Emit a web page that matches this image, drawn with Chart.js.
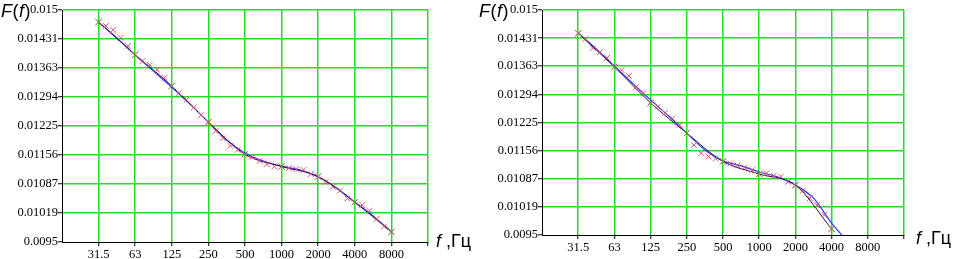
<!DOCTYPE html>
<html><head><meta charset="utf-8">
<script src="https://cdn.jsdelivr.net/npm/chart.js@4/dist/chart.umd.min.js"></script>
<style>
html,body{margin:0;padding:0;background:#fff;width:958px;height:259px;overflow:hidden;position:relative}
canvas{position:absolute;top:0}
.lbl{position:absolute;font-family:"Liberation Sans",Arial,sans-serif;color:#000;white-space:nowrap;line-height:1}
</style></head><body>
<canvas id="c1" width="479" height="259" style="left:0px"></canvas>
<canvas id="c2" width="479" height="259" style="left:479px"></canvas>
<div class="lbl" style="left:1px;top:2px;font-size:18px;letter-spacing:0.5px"><i>F</i>(<i>f</i>)</div>
<div class="lbl" style="left:479px;top:2px;font-size:18px;letter-spacing:0.5px"><i>F</i>(<i>f</i>)</div>
<div class="lbl" style="left:436px;top:232px;font-size:18px"><i>f</i> ,Гц</div>
<div class="lbl" style="left:916px;top:229px;font-size:18px"><i>f</i> ,Гц</div>
<script>
// ---- axis ticks ----
const xTickPos = [31.5, 63, 126, 252, 504, 1008, 2016, 4032, 8064];
const xTickLabels = ['31.5', '63', '125', '250', '500', '1000', '2000', '4000', '8000'];
const yTickValues = [0.0095, 0.01019, 0.01087, 0.01156, 0.01225, 0.01294, 0.01363, 0.01431, 0.015];
const yTickLabels = ['0.0095', '0.01019', '0.01087', '0.01156', '0.01225', '0.01294', '0.01363', '0.01431', '0.015'];

// ---- left panel ----
const leftFreqs = [31.5, 36.18, 41.56, 47.74, 54.84, 63, 72.37, 83.13, 95.49, 109.7,
  126, 144.7, 166.3, 191.0, 219.4, 252, 289.5, 332.5, 382.0, 438.8,
  504, 579.0, 665.0, 763.9, 877.5, 1008, 1158, 1330, 1528, 1755,
  2016, 2316, 2660, 3056, 3510, 4032, 4632, 5320, 6111, 7020, 8064];
const leftMeasured = [0.01471, 0.01462, 0.01453, 0.01434, 0.01415, 0.01394, 0.01379, 0.01370, 0.01358, 0.01339,
  0.01320, 0.01303, 0.01287, 0.01269, 0.01251, 0.01234, 0.01213, 0.01196, 0.01178, 0.01168,
  0.01158, 0.01152, 0.01142, 0.01134, 0.01129, 0.01129, 0.01125, 0.01123, 0.01121, 0.01111,
  0.01105, 0.01092, 0.01081, 0.01072, 0.01053, 0.01044, 0.01038, 0.01024, 0.01005, 0.00987, 0.00974];
const leftOctaveValues = [0.01471, 0.01394, 0.01320, 0.01234, 0.01158, 0.01129, 0.01105, 0.01044, 0.00974];
const leftFitFreqs = [31.5, 44.5, 63, 89, 126, 178, 252, 356, 504, 713, 1008, 1425, 2016, 2851, 4032, 5702, 8064];
const leftFitValues = [0.01471, 0.01434, 0.01393, 0.01355, 0.01317, 0.01277, 0.01234, 0.01192, 0.01161, 0.01142,
  0.01130, 0.01121, 0.01104, 0.01078, 0.01045, 0.01012, 0.00974];

// ---- right panel ----
const rightFreqs = leftFreqs.slice(0, 36);
const rightMeasured = [0.01443, 0.01429, 0.01407, 0.01397, 0.01383, 0.01361, 0.01353, 0.01339, 0.01312, 0.01297,
  0.01273, 0.01264, 0.01248, 0.01235, 0.01219, 0.01199, 0.01170, 0.01150, 0.01142, 0.01137,
  0.01130, 0.01125, 0.01120, 0.01115, 0.01109, 0.01099, 0.01101, 0.01095, 0.01093, 0.01080,
  0.01072, 0.01058, 0.01040, 0.01023, 0.00999, 0.00965];
const rightOctaveValues = [0.01443, 0.01361, 0.01273, 0.01199, 0.01130, 0.01099, 0.01072, 0.00965];
const rightFitFreqs = [31.5, 44.5, 63, 89, 126, 178, 252, 356, 504, 713, 1008, 1425, 2016, 2851, 4032, 4900];
const rightFitValues = [0.01444, 0.01405, 0.01363, 0.01321, 0.01280, 0.01241, 0.01199, 0.01158, 0.01131, 0.01119,
  0.01104, 0.01092, 0.01072, 0.01040, 0.00979, 0.0095];

const GREEN = '#22dd22';
const X_MIN = 15.75, X_MAX = 16128;

function pts(xs, ys) { return ys.map((v, i) => ({ x: xs[i], y: v })); }

function makeChart(id, geo, freqs, measured, octaveVals, fitF, fitV) {
  const octF = xTickPos.slice(0, octaveVals.length);
  new Chart(document.getElementById(id), {
    type: 'scatter',
    data: {
      datasets: [
        { data: pts(fitF, fitV), showLine: true, borderColor: '#2a3cff', borderWidth: 1.2, pointRadius: 0, cubicInterpolationMode: 'monotone', order: 3 },
        { data: pts(octF, octaveVals), showLine: true, borderColor: '#2b0a4a', borderWidth: 1, pointRadius: 0, cubicInterpolationMode: 'monotone', order: 2 },
        { data: pts(freqs, measured), showLine: false, pointStyle: 'crossRot', pointRadius: 4, borderColor: '#e0506e', borderWidth: 1, order: 1 },
        { data: pts(octF, octaveVals), showLine: false, pointStyle: 'crossRot', pointRadius: 4.5, borderColor: '#8a8a3a', borderWidth: 1, order: 0 }
      ]
    },
    options: {
      responsive: false, animation: false, devicePixelRatio: 1,
      layout: { padding: { top: geo.top, right: geo.right, left: 0, bottom: 0 } },
      plugins: { legend: { display: false }, tooltip: { enabled: false } },
      scales: {
        x: {
          type: 'logarithmic', min: X_MIN, max: X_MAX, bounds: 'data',
          afterBuildTicks: s => { s.ticks = xTickPos.concat([X_MAX]).map(v => ({ value: v })); },
          afterFit: s => { s.height = geo.xh; },
          grid: { color: GREEN, lineWidth: 1.5, tickColor: '#000', tickLength: 4, drawTicks: true, tickWidth: 1 },
          border: { color: '#000', width: 1 },
          ticks: { autoSkip: false, maxRotation: 0, minRotation: 0, padding: 1, color: '#000',
            font: { family: 'Liberation Serif', size: 12.5 }, callback: (v, i) => xTickLabels[i] || '' }
        },
        y: {
          type: 'linear', min: 0.0095, max: 0.015, bounds: 'data',
          afterBuildTicks: s => { s.ticks = yTickValues.map(v => ({ value: v })); },
          afterFit: s => { s.width = geo.yw; },
          grid: { color: c => (c.index === 0 ? 'rgba(0,0,0,0)' : GREEN), lineWidth: 1.5, tickColor: '#000', tickLength: 4, drawTicks: true, tickWidth: 1 },
          border: { color: '#000', width: 1 },
          ticks: { padding: 0, color: '#000', font: { family: 'Liberation Serif', size: 12.5 },
            callback: (v, i) => yTickLabels[i] }
        }
      }
    }
  });
}

makeChart('c1', { top: 10, right: 51, xh: 17, yw: 62 }, leftFreqs, leftMeasured, leftOctaveValues, leftFitFreqs, leftFitValues);
makeChart('c2', { top: 10, right: 54, xh: 24, yw: 63 }, rightFreqs, rightMeasured, rightOctaveValues, rightFitFreqs, rightFitValues);
</script>
</body></html>
